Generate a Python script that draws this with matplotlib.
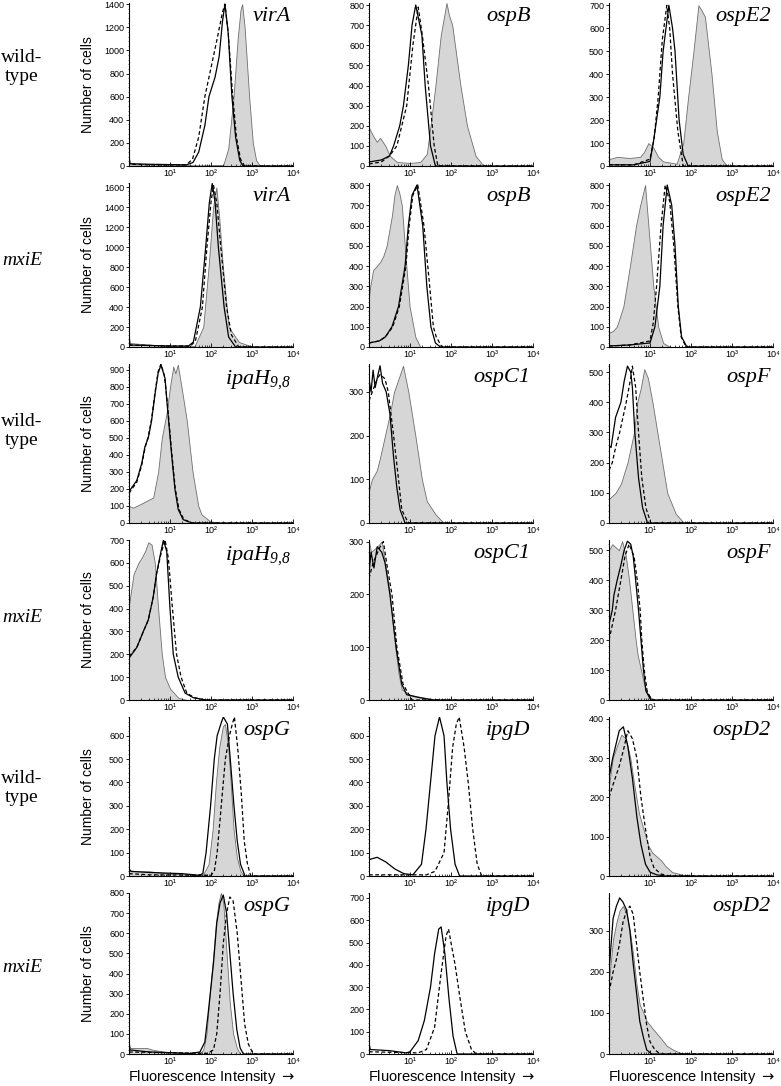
import numpy as np
import matplotlib
matplotlib.use('Agg')
import matplotlib.pyplot as plt
from matplotlib.ticker import MultipleLocator, AutoMinorLocator, FixedLocator, LogLocator, NullFormatter

plt.rcParams['font.family'] = ['Liberation Sans', 'DejaVu Sans']
plt.rcParams['mathtext.fontset'] = 'custom'
plt.rcParams['mathtext.rm'] = 'Liberation Serif:italic'
plt.rcParams['mathtext.it'] = 'Liberation Serif:italic'
plt.rcParams['mathtext.default'] = 'it'

# each curve: (log10 fluorescence intensity, number of cells)
# row 1, wild-type
virA_wt_fill = [(0, 30), (0.05, 15), (1.0, 10), (1.8, 5), (2.3, 10), (2.42, 150), (2.55, 600), (2.65, 1100), (2.72, 1350), (2.76, 1400), (2.82, 1200), (2.93, 600), (3.02, 200), (3.1, 50), (3.2, 0), (4, 0)]
virA_wt_solid = [(0, 110), (0.02, 20), (0.5, 15), (1.4, 10), (1.56, 30), (1.7, 120), (1.85, 350), (1.95, 600), (2.1, 770), (2.2, 950), (2.28, 1250), (2.34, 1400), (2.42, 1150), (2.51, 600), (2.6, 250), (2.7, 50), (2.78, 0), (4, 0)]
virA_wt_dash = [(0, 100), (0.02, 15), (0.5, 10), (1.4, 10), (1.55, 60), (1.7, 250), (1.85, 600), (2.0, 850), (2.15, 1100), (2.28, 1330), (2.34, 1400), (2.42, 1150), (2.52, 650), (2.62, 250), (2.72, 60), (2.82, 0), (4, 0)]
ospB_wt_fill = [(0, 190), (0.1, 150), (0.19, 120), (0.27, 140), (0.4, 100), (0.51, 50), (0.68, 20), (1.0, 15), (1.25, 20), (1.41, 60), (1.5, 200), (1.62, 400), (1.75, 650), (1.89, 810), (1.95, 750), (2.03, 700), (2.13, 550), (2.23, 400), (2.39, 200), (2.6, 50), (2.8, 0), (4, 0)]
ospB_wt_solid = [(0, 20), (0.3, 30), (0.5, 50), (0.6, 100), (0.75, 200), (0.84, 300), (0.96, 500), (1.05, 700), (1.14, 800), (1.22, 720), (1.29, 650), (1.37, 400), (1.5, 100), (1.62, 0), (4, 0)]
ospB_wt_dash = [(0, 10), (0.3, 20), (0.5, 50), (0.68, 100), (0.8, 200), (0.92, 300), (1.07, 600), (1.2, 790), (1.3, 650), (1.45, 400), (1.59, 100), (1.68, 0), (4, 0)]
ospE2_wt_fill = [(0, 30), (0.2, 40), (0.5, 35), (0.76, 40), (0.85, 60), (0.96, 100), (1.08, 80), (1.2, 40), (1.32, 20), (1.65, 10), (1.81, 100), (1.93, 300), (2.06, 500), (2.18, 700), (2.25, 680), (2.34, 650), (2.5, 400), (2.63, 150), (2.75, 30), (2.87, 0), (4, 0)]
ospE2_wt_solid = [(0, 5), (0.6, 5), (1.0, 20), (1.08, 100), (1.24, 300), (1.32, 500), (1.46, 700), (1.55, 600), (1.61, 500), (1.71, 200), (1.81, 50), (1.93, 0), (4, 0)]
ospE2_wt_dash = [(0, 5), (0.6, 5), (1.0, 30), (1.1, 120), (1.2, 300), (1.3, 550), (1.41, 700), (1.48, 600), (1.55, 400), (1.68, 150), (1.81, 0), (4, 0)]

# row 2, mxiE
virA_mx_fill = [(0, 100), (0.02, 40), (0.3, 30), (1.0, 10), (1.6, 10), (1.81, 200), (1.94, 800), (2.05, 1400), (2.13, 1600), (2.2, 1300), (2.29, 800), (2.43, 200), (2.68, 50), (2.89, 20), (3.05, 0), (4, 0)]
virA_mx_solid = [(0, 100), (0.02, 20), (1.0, 10), (1.45, 10), (1.57, 50), (1.74, 400), (1.87, 1000), (1.96, 1450), (2.03, 1640), (2.1, 1450), (2.18, 1000), (2.32, 400), (2.43, 100), (2.6, 0), (4, 0)]
virA_mx_dash = [(0, 90), (0.02, 20), (1.0, 10), (1.5, 10), (1.62, 60), (1.79, 400), (1.9, 1000), (2.0, 1450), (2.06, 1620), (2.14, 1450), (2.24, 1000), (2.38, 400), (2.5, 120), (2.68, 0), (4, 0)]
ospB_mx_fill = [(0, 250), (0.03, 300), (0.1, 380), (0.19, 400), (0.27, 420), (0.35, 450), (0.43, 500), (0.56, 650), (0.62, 750), (0.68, 800), (0.74, 760), (0.8, 700), (0.91, 400), (0.99, 200), (1.13, 50), (1.25, 0), (4, 0)]
ospB_mx_solid = [(0, 20), (0.25, 30), (0.4, 50), (0.56, 100), (0.72, 200), (0.88, 400), (0.96, 600), (1.05, 750), (1.17, 800), (1.31, 600), (1.41, 300), (1.51, 100), (1.62, 20), (1.74, 0), (4, 0)]
ospB_mx_dash = [(0, 20), (0.25, 30), (0.4, 50), (0.58, 100), (0.74, 200), (0.9, 400), (0.98, 600), (1.07, 750), (1.19, 800), (1.34, 600), (1.48, 300), (1.57, 100), (1.64, 50), (1.78, 0), (4, 0)]
ospE2_mx_fill = [(0, 70), (0.1, 80), (0.19, 100), (0.35, 200), (0.51, 400), (0.66, 600), (0.76, 700), (0.88, 800), (0.96, 600), (1.08, 300), (1.2, 100), (1.32, 20), (1.49, 0), (4, 0)]
ospE2_mx_solid = [(0, 5), (0.5, 10), (1.0, 20), (1.12, 100), (1.24, 300), (1.32, 600), (1.42, 800), (1.53, 700), (1.61, 500), (1.69, 200), (1.77, 50), (1.9, 0), (4, 0)]
ospE2_mx_dash = [(0, 5), (0.5, 10), (1.0, 30), (1.08, 120), (1.16, 300), (1.27, 600), (1.37, 800), (1.48, 720), (1.58, 500), (1.68, 200), (1.76, 50), (1.88, 0), (4, 0)]

# row 3, wild-type
ipaH_wt_fill = [(0, 100), (0.1, 90), (0.27, 110), (0.43, 130), (0.59, 150), (0.71, 300), (0.8, 500), (0.92, 650), (1.0, 800), (1.08, 920), (1.13, 880), (1.19, 930), (1.28, 800), (1.41, 600), (1.55, 300), (1.69, 100), (1.77, 50), (1.98, 10), (2.22, 0), (4, 0)]
ipaH_wt_solid = [(0, 185), (0.19, 250), (0.31, 350), (0.39, 450), (0.47, 500), (0.55, 600), (0.63, 750), (0.71, 880), (0.78, 930), (0.88, 850), (0.93, 700), (1.04, 400), (1.12, 200), (1.2, 80), (1.32, 20), (1.53, 0), (4, 0)]
ipaH_wt_dash = [(0, 175), (0.19, 240), (0.31, 340), (0.39, 440), (0.47, 510), (0.55, 610), (0.63, 760), (0.71, 890), (0.78, 935), (0.86, 870), (0.93, 720), (1.04, 420), (1.13, 200), (1.22, 80), (1.34, 20), (1.55, 0), (4, 0)]
ospC1_wt_fill = [(0, 74), (0.07, 100), (0.19, 120), (0.27, 150), (0.39, 200), (0.51, 250), (0.61, 300), (0.72, 330), (0.83, 360), (0.96, 300), (1.13, 200), (1.29, 100), (1.41, 50), (1.62, 20), (1.82, 0), (4, 0)]
ospC1_wt_solid = [(0, 330), (0.05, 300), (0.1, 350), (0.15, 310), (0.22, 340), (0.27, 360), (0.33, 320), (0.42, 300), (0.51, 250), (0.6, 150), (0.68, 80), (0.76, 30), (0.88, 0), (4, 0)]
ospC1_wt_dash = [(0, 280), (0.08, 300), (0.2, 330), (0.27, 340), (0.39, 330), (0.47, 300), (0.6, 200), (0.72, 100), (0.8, 30), (0.96, 0), (4, 0)]
ospF_wt_fill = [(0, 80), (0.16, 100), (0.29, 130), (0.45, 200), (0.53, 250), (0.61, 300), (0.69, 400), (0.78, 450), (0.86, 510), (0.95, 480), (1.06, 400), (1.18, 300), (1.3, 200), (1.42, 100), (1.63, 30), (1.83, 0), (4, 0)]
ospF_wt_solid = [(0, 257), (0.05, 250), (0.16, 350), (0.29, 400), (0.37, 470), (0.45, 520), (0.53, 500), (0.57, 450), (0.63, 300), (0.72, 150), (0.82, 50), (0.94, 0), (4, 0)]
ospF_wt_dash = [(0, 175), (0.08, 200), (0.16, 250), (0.26, 300), (0.42, 400), (0.53, 480), (0.57, 520), (0.65, 450), (0.72, 300), (0.8, 150), (0.9, 50), (1.02, 0), (4, 0)]

# row 4, mxiE
ipaH_mx_fill = [(0, 415), (0.11, 550), (0.23, 600), (0.3, 620), (0.39, 650), (0.47, 690), (0.55, 680), (0.63, 600), (0.71, 400), (0.8, 200), (0.88, 100), (1.0, 50), (1.2, 10), (1.41, 0), (4, 0)]
ipaH_mx_solid = [(0, 183), (0.19, 230), (0.35, 300), (0.47, 350), (0.59, 450), (0.67, 550), (0.78, 650), (0.84, 700), (0.92, 650), (1.0, 400), (1.08, 200), (1.2, 100), (1.37, 30), (1.57, 10), (1.89, 0), (4, 0)]
ipaH_mx_dash = [(0, 190), (0.19, 230), (0.35, 300), (0.47, 350), (0.59, 450), (0.67, 550), (0.78, 640), (0.88, 700), (0.96, 620), (1.06, 400), (1.16, 200), (1.27, 100), (1.41, 30), (1.6, 10), (1.85, 0), (4, 0)]
ospC1_mx_fill = [(0, 300), (0.05, 280), (0.19, 290), (0.31, 300), (0.39, 260), (0.51, 200), (0.57, 150), (0.64, 100), (0.72, 50), (0.8, 20), (1.0, 10), (1.3, 5), (1.74, 0), (4, 0)]
ospC1_mx_solid = [(0, 240), (0.05, 280), (0.12, 250), (0.2, 290), (0.31, 280), (0.39, 260), (0.51, 200), (0.66, 100), (0.8, 30), (0.92, 10), (1.2, 5), (1.55, 0), (4, 0)]
ospC1_mx_dash = [(0, 230), (0.1, 260), (0.27, 290), (0.35, 300), (0.45, 250), (0.56, 200), (0.68, 100), (0.83, 30), (1.05, 0), (4, 0)]
ospF_mx_fill = [(0, 500), (0.08, 520), (0.24, 500), (0.32, 530), (0.41, 480), (0.49, 400), (0.57, 300), (0.65, 200), (0.7, 150), (0.78, 100), (0.86, 50), (0.98, 10), (1.14, 0), (4, 0)]
ospF_mx_solid = [(0, 253), (0.08, 300), (0.12, 350), (0.2, 400), (0.29, 450), (0.37, 500), (0.45, 530), (0.53, 520), (0.59, 480), (0.65, 400), (0.72, 300), (0.78, 200), (0.84, 100), (0.9, 30), (1.02, 0), (4, 0)]
ospF_mx_dash = [(0, 200), (0.08, 250), (0.16, 300), (0.29, 400), (0.39, 480), (0.49, 520), (0.61, 480), (0.69, 400), (0.76, 300), (0.8, 200), (0.86, 100), (0.93, 30), (1.04, 0), (4, 0)]

# row 5, wild-type
ospG_wt_fill = [(0, 30), (0.05, 20), (0.5, 20), (1.0, 10), (1.5, 5), (1.8, 5), (1.94, 50), (2.04, 200), (2.12, 400), (2.2, 550), (2.29, 640), (2.34, 650), (2.42, 550), (2.48, 400), (2.55, 200), (2.63, 80), (2.72, 20), (2.8, 0), (4, 0)]
ospG_wt_solid = [(0, 30), (0.05, 20), (0.5, 15), (1.3, 10), (1.7, 3), (1.8, 10), (1.88, 100), (1.99, 300), (2.08, 500), (2.15, 600), (2.24, 650), (2.3, 680), (2.4, 650), (2.47, 500), (2.56, 300), (2.64, 150), (2.72, 50), (2.83, 0), (4, 0)]
ospG_wt_dash = [(0, 10), (0.5, 5), (2.0, 3), (2.08, 20), (2.15, 100), (2.25, 300), (2.35, 500), (2.45, 600), (2.52, 650), (2.57, 680), (2.65, 550), (2.74, 350), (2.81, 150), (2.89, 50), (2.97, 0), (4, 0)]
ipgD_wt_solid = [(0, 70), (0.1, 75), (0.2, 80), (0.41, 60), (0.63, 30), (0.85, 10), (1.07, 5), (1.28, 50), (1.39, 200), (1.5, 400), (1.61, 600), (1.72, 680), (1.83, 600), (1.9, 400), (1.99, 200), (2.1, 50), (2.21, 0), (4, 0)]
ipgD_wt_dash = [(0, 5), (1.4, 5), (1.61, 20), (1.83, 100), (1.93, 300), (2.04, 550), (2.13, 650), (2.2, 680), (2.32, 550), (2.42, 400), (2.53, 200), (2.64, 50), (2.75, 0), (4, 0)]
ospD2_wt_fill = [(0, 230), (0.09, 300), (0.19, 330), (0.3, 360), (0.41, 350), (0.52, 300), (0.62, 230), (0.73, 160), (0.84, 120), (0.95, 80), (1.05, 60), (1.16, 50), (1.27, 40), (1.38, 25), (1.54, 10), (1.81, 3), (2.02, 0), (4, 0)]
ospD2_wt_solid = [(0, 250), (0.09, 300), (0.25, 370), (0.35, 380), (0.46, 330), (0.57, 250), (0.68, 150), (0.78, 80), (0.89, 30), (1.0, 10), (1.16, 3), (1.38, 0), (4, 0)]
ospD2_wt_dash = [(0, 200), (0.09, 230), (0.25, 280), (0.35, 320), (0.46, 370), (0.57, 350), (0.68, 300), (0.78, 200), (0.89, 120), (1.0, 50), (1.1, 20), (1.27, 5), (1.48, 0), (4, 0)]

# row 6, mxiE
ospG_mx_fill = [(0, 50), (0.03, 30), (0.43, 30), (0.6, 20), (0.92, 10), (1.33, 5), (1.7, 0), (1.81, 20), (1.89, 100), (1.97, 300), (2.06, 500), (2.12, 650), (2.18, 750), (2.24, 800), (2.3, 750), (2.38, 500), (2.46, 250), (2.54, 100), (2.63, 30), (2.71, 0), (4, 0)]
ospG_mx_solid = [(0, 40), (0.03, 20), (0.5, 10), (1.5, 3), (1.73, 10), (1.85, 60), (1.93, 200), (2.06, 450), (2.14, 650), (2.22, 750), (2.3, 790), (2.38, 700), (2.46, 500), (2.54, 300), (2.63, 120), (2.71, 30), (2.79, 0), (4, 0)]
ospG_mx_dash = [(0, 10), (1.9, 3), (2.06, 20), (2.14, 100), (2.22, 300), (2.3, 550), (2.38, 700), (2.46, 780), (2.54, 760), (2.64, 600), (2.74, 350), (2.82, 150), (2.91, 50), (3.03, 0), (4, 0)]
ipgD_mx_solid = [(0, 50), (0.03, 20), (0.5, 15), (0.9, 5), (1.0, 10), (1.2, 60), (1.35, 150), (1.5, 300), (1.6, 450), (1.7, 560), (1.76, 570), (1.85, 450), (1.95, 250), (2.05, 80), (2.15, 0), (4, 0)]
ipgD_mx_dash = [(0, 10), (1.2, 5), (1.4, 20), (1.6, 120), (1.75, 350), (1.88, 530), (1.94, 560), (2.02, 480), (2.1, 400), (2.22, 250), (2.35, 100), (2.5, 20), (2.62, 0), (4, 0)]
ospD2_mx_fill = [(0, 180), (0.1, 280), (0.18, 320), (0.26, 350), (0.34, 360), (0.43, 340), (0.51, 300), (0.59, 240), (0.67, 170), (0.75, 120), (0.84, 100), (0.92, 80), (1.0, 70), (1.08, 60), (1.25, 40), (1.41, 20), (1.57, 10), (1.74, 3), (1.9, 0), (4, 0)]
ospD2_mx_solid = [(0, 200), (0.1, 330), (0.18, 360), (0.26, 380), (0.34, 370), (0.43, 350), (0.51, 300), (0.59, 220), (0.67, 150), (0.75, 80), (0.84, 40), (0.92, 10), (1.04, 0), (4, 0)]
ospD2_mx_dash = [(0, 150), (0.1, 200), (0.18, 230), (0.26, 270), (0.34, 320), (0.43, 350), (0.51, 360), (0.59, 340), (0.67, 270), (0.75, 200), (0.84, 130), (0.92, 70), (1.0, 30), (1.12, 10), (1.25, 0), (4, 0)]

strains = ['wild-\ntype', 'mxiE', 'wild-\ntype', 'mxiE', 'wild-\ntype', 'mxiE']
xtick_labels = ['10¹', '10²', '10³', '10⁴']
ipaH = r'$ipaH_{9{,}8}$'

# (gene label, filled, solid, dashed, y max, y tick step)
panels = [
    [('virA', virA_wt_fill, virA_wt_solid, virA_wt_dash, 1410, 200),
     ('ospB', ospB_wt_fill, ospB_wt_solid, ospB_wt_dash, 810, 100),
     ('ospE2', ospE2_wt_fill, ospE2_wt_solid, ospE2_wt_dash, 710, 100)],
    [('virA', virA_mx_fill, virA_mx_solid, virA_mx_dash, 1645, 200),
     ('ospB', ospB_mx_fill, ospB_mx_solid, ospB_mx_dash, 810, 100),
     ('ospE2', ospE2_mx_fill, ospE2_mx_solid, ospE2_mx_dash, 810, 100)],
    [(ipaH, ipaH_wt_fill, ipaH_wt_solid, ipaH_wt_dash, 935, 100),
     ('ospC1', ospC1_wt_fill, ospC1_wt_solid, ospC1_wt_dash, 364, 100),
     ('ospF', ospF_wt_fill, ospF_wt_solid, ospF_wt_dash, 527, 100)],
    [(ipaH, ipaH_mx_fill, ipaH_mx_solid, ipaH_mx_dash, 700, 100),
     ('ospC1', ospC1_mx_fill, ospC1_mx_solid, ospC1_mx_dash, 303, 100),
     ('ospF', ospF_mx_fill, ospF_mx_solid, ospF_mx_dash, 534, 100)],
    [('ospG', ospG_wt_fill, ospG_wt_solid, ospG_wt_dash, 680, 100),
     ('ipgD', None, ipgD_wt_solid, ipgD_wt_dash, 680, 100),
     ('ospD2', ospD2_wt_fill, ospD2_wt_solid, ospD2_wt_dash, 405, 100)],
    [('ospG', ospG_mx_fill, ospG_mx_solid, ospG_mx_dash, 800, 100),
     ('ipgD', None, ipgD_mx_solid, ipgD_mx_dash, 722, 100),
     ('ospD2', ospD2_mx_fill, ospD2_mx_solid, ospD2_mx_dash, 392, 100)],
]

W, H = 781, 1086
fig = plt.figure(figsize=(W / 100, H / 100), dpi=100)

col_left = [129, 369, 609]
col_w = 164
row_top = [3, 183, 364, 540, 717, 893]
row_bot = [166, 347, 523, 700, 876, 1054]
label_y = [67, 260, 431, 617, 788, 967]


def curve(points):
    lx, cnt = zip(*points)
    return 10 ** np.array(lx), np.array(cnt)


for r, row in enumerate(panels):
    for c, (gene, fill, solid, dash, ytop, ystep) in enumerate(row):
        ax = fig.add_axes([col_left[c] / W, 1 - row_bot[r] / H, col_w / W,
                           (row_bot[r] - row_top[r]) / H])
        ax.set_xscale('log')
        if fill is not None:
            x, y = curve(fill)
            ax.fill_between(x, 0, y, facecolor='#d6d6d6', edgecolor='#6e6e6e', linewidth=0.6)
        x, y = curve(solid)
        ax.plot(x, y, color='black', lw=0.9)
        x, y = curve(dash)
        ax.plot(x, y, color='black', lw=0.9, linestyle=(0, (3, 2)))

        ax.set_xlim(1, 1e4)
        ax.set_ylim(0, ytop)
        ax.xaxis.set_major_locator(FixedLocator([10, 100, 1000, 10000]))
        ax.set_xticklabels(xtick_labels)
        ax.xaxis.set_minor_locator(LogLocator(base=10, subs=np.arange(2, 10), numticks=20))
        ax.xaxis.set_minor_formatter(NullFormatter())
        ax.yaxis.set_major_locator(MultipleLocator(ystep))
        ax.yaxis.set_minor_locator(AutoMinorLocator(5))
        ax.tick_params(axis='x', which='major', direction='in', length=3, width=0.6,
                       labelsize=6.5, pad=2)
        ax.tick_params(axis='x', which='minor', direction='in', length=1.8, width=0.5)
        ax.tick_params(axis='y', which='major', direction='out', length=2.5, width=0.6,
                       labelsize=6.5, pad=1)
        ax.tick_params(axis='y', which='minor', direction='out', length=1.0, width=0.4)
        for s in ['top', 'right']:
            ax.spines[s].set_visible(False)
        for s in ['left', 'bottom']:
            ax.spines[s].set_linewidth(0.8)

        ax.text(0.985, 0.975, gene, transform=ax.transAxes, ha='right', va='top',
                fontsize=16, family='Liberation Serif', style='italic', math_fontfamily='custom')

        if c == 0:
            fig.text(88 / W, 1 - (row_top[r] + row_bot[r]) / 2 / H, 'Number of cells',
                     rotation=90, ha='center', va='center', fontsize=10)
        if r == len(panels) - 1:
            fig.text((col_left[c] + col_w / 2) / W, 1 - 1077 / H,
                     r'Fluorescence Intensity $\rightarrow$',
                     ha='center', va='center', fontsize=10.5, math_fontfamily='dejavusans')

    fig.text(22 / W, 1 - label_y[r] / H, strains[r], ha='center', va='center',
             fontsize=14, family='Liberation Serif',
             style='italic' if strains[r] == 'mxiE' else 'normal', linespacing=1.15)

fig.savefig('out.png', dpi=100)
